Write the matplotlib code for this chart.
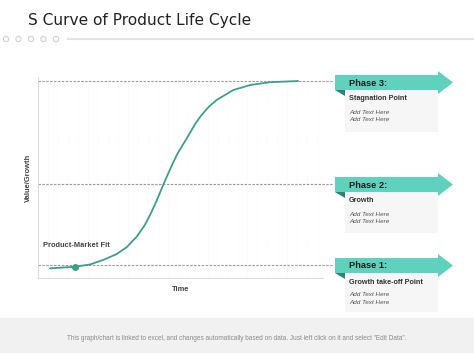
import numpy as np
import matplotlib.pyplot as plt
from matplotlib.patches import Polygon, Rectangle, Circle

plt.rcParams['font.family'] = ['Liberation Sans', 'DejaVu Sans']

# curve (time 0-100, value 0-100)
time = [4.2, 13.0, 18.2, 22.9, 27.6, 31.1, 34.6, 37.5, 39.6, 41.5, 43.2, 44.7, 46.7,
        48.7, 51.0, 53.3, 55.3, 57.4, 60.0, 62.7, 68.5, 74.4, 81.4, 91.3]
value = [4.8, 5.6, 6.7, 9.0, 11.9, 15.3, 20.5, 26.4, 32.2, 38.0, 43.8, 48.8, 55.2,
         61.2, 66.7, 72.1, 77.0, 81.1, 85.3, 88.6, 93.5, 96.0, 97.4, 98.0]
fit_time = 13.0
fit_value = 5.6
levels = [97.8, 46.8, 6.5]

phase_titles = ["Phase 3:", "Phase 2:", "Phase 1:"]
phase_subs = ["Stagnation Point", "Growth", "Growth take-off Point"]
title = "S Curve of Product Life Cycle"
footer = 'This graph/chart is linked to excel, and changes automatically based on data. Just left click on it and select "Edit Data".'

teal = "#3f9e8b"
arrow_c = "#5fd1bd"
fold_c = "#2e8474"

fig = plt.figure(figsize=(4.74, 3.55), dpi=100)

# overlay in pixel coords for the slide decorations
bg = fig.add_axes([0, 0, 1, 1])
bg.set_xlim(0, 474)
bg.set_ylim(355, 0)
bg.axis("off")

bg.text(28, 21, title, fontsize=11.1, color="#222222", va="center", ha="left", family="DejaVu Sans")
for cx in [6, 18.5, 31, 43.5, 56]:
    bg.add_patch(Circle((cx, 39), 2.6, fill=False, ec="#d0d0d0", lw=0.8))
bg.plot([68, 474], [39, 39], color="#e4e4e4", lw=1.6)

bg.add_patch(Rectangle((0, 318), 474, 35, color="#f1f1f1", lw=0))
bg.text(237, 338.5, footer, fontsize=4.7, color="#8a8a8a", ha="center", va="center")

centers = [82.5, 184.5, 265.5]
bottoms = [132, 233, 312]
for yc, yb, t, s in zip(centers, bottoms, phase_titles, phase_subs):
    bg.add_patch(Rectangle((345, yc + 7.5), 93, yb - yc - 7.5, color="#f6f6f6", lw=0))
    pts = [(335, yc - 7.5), (438, yc - 7.5), (438, yc - 11.5), (453, yc),
           (438, yc + 11.5), (438, yc + 7.5), (335, yc + 7.5)]
    bg.add_patch(Polygon(pts, closed=True, color=arrow_c, lw=0))
    bg.add_patch(Polygon([(335, yc + 7.5), (345, yc + 7.5), (345, yc + 13.5)], closed=True, color=fold_c, lw=0))
    bg.text(349, yc + 0.5, t, fontsize=6.7, fontweight="bold", color="#1e1e1e", va="center")
    bg.text(349, yc + 16.5, s, fontsize=5.2, fontweight="bold", color="#333333", va="center")
    bg.text(349, yc + 29.5, "Add Text Here", fontsize=4.6, style="italic", color="#555555", va="center")
    bg.text(349, yc + 37, "Add Text Here", fontsize=4.6, style="italic", color="#555555", va="center")

# main chart
ax = fig.add_axes([38 / 474, 1 - 278 / 355, 285 / 474, 201 / 355])
ax.patch.set_alpha(0)
ax.set_xlim(0, 100)
ax.set_ylim(0, 100)
for sp in ["top", "right"]:
    ax.spines[sp].set_visible(False)
for sp in ["left", "bottom"]:
    ax.spines[sp].set_color("#dcdcdc")
    ax.spines[sp].set_linewidth(0.8)
ax.set_xticks(np.arange(0, 101, 3.5))
ax.set_yticks([])
ax.tick_params(axis="x", length=0, labelbottom=False)
ax.grid(axis="x", color="#f4f4f4", linestyle=":", linewidth=0.6)

for lv in levels:
    ax.axhline(lv, xmin=0, xmax=1.035, color="#999999", linestyle=(0, (2.2, 1.3)), lw=0.8, clip_on=False)

ax.plot(time, value, color=teal, lw=1.3, solid_capstyle="round", solid_joinstyle="round")
ax.plot([fit_time], [fit_value], "o", color=teal, ms=4)

ax.text(1.8, 16.2, "Product-Market Fit", fontsize=5.4, fontweight="bold", color="#444444", va="center")
ax.set_xlabel("Time", fontsize=5.4, fontweight="bold", color="#444444", labelpad=6)
ax.set_ylabel("Value/Growth", fontsize=5.4, fontweight="bold", color="#444444", labelpad=4)

fig.savefig("out.png", dpi=100)
